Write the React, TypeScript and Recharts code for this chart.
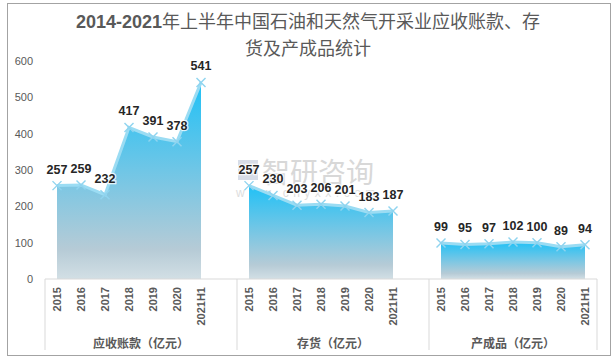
import React from "react";
import { ComposedChart, Area, XAxis, YAxis, LabelList, Customized } from "recharts";

const YEARS = ["2015", "2016", "2017", "2018", "2019", "2020", "2021H1"];
const GROUPS = ["应收账款（亿元）", "存货（亿元）", "产成品（亿元）"];
const RECEIVABLES = [257, 259, 232, 417, 391, 378, 541];
const INVENTORY = [257, 230, 203, 206, 201, 183, 187];
const FINISHED = [99, 95, 97, 102, 100, 89, 94];
const Y_TICKS = [0, 100, 200, 300, 400, 500, 600];
const TITLE_1 = "年上半年中国石油和天然气开采业应收账款、存";
const TITLE_2 = "货及产成品统计";

const SERIES = [RECEIVABLES, INVENTORY, FINISHED];
const KEYS = ["s0", "s1", "s2"];

// one row per slot, with an empty slot after the first two groups
type Row = { year: string; pos: number; [k: string]: any };
const rows: Row[] = [];
const bounds: number[] = [];
const centers: number[] = [];
SERIES.forEach((vals, g) => {
  const start = rows.length;
  vals.forEach((v, i) => {
    rows.push({ year: YEARS[i], pos: rows.length + 0.5, [KEYS[g]]: v });
  });
  if (g < SERIES.length - 1) rows.push({ year: "", pos: rows.length + 0.5 });
  bounds.push(start);
  centers.push((start + rows.length) / 2);
});
bounds.push(rows.length);
const yearTicks = rows.filter((r) => r.year).map((r) => r.pos);
const yearAt = (pos: number) => rows.find((r) => r.pos === pos)?.year ?? "";

const GRAY = "#595959";
const YEAR_AXIS_H = 55;
const NUM_FONT = "'Liberation Sans', Arial, sans-serif";
const CJK_FONT = "'Noto Sans CJK SC', sans-serif";

const YearTick = (props: any) => {
  const { x, y, payload } = props;
  const label = yearAt(payload.value);
  if (!label) return null;
  return (
    <text
      x={x}
      y={y}
      dy="0.35em"
      transform={`rotate(-90 ${x} ${y})`}
      textAnchor="end"
      fontSize={11}
      fontWeight="bold"
      fontFamily={NUM_FONT}
      fill={GRAY}
    >
      {label}
    </text>
  );
};

const GroupTick = (props: any) => {
  const { x, y, payload } = props;
  const gi = centers.indexOf(payload.value);
  if (gi >= 0) {
    return (
      <text
        x={x}
        y={y + 8}
        dominantBaseline="central"
        textAnchor="middle"
        fontSize={12}
        fontWeight="bold"
        fontFamily={CJK_FONT}
        fill={GRAY}
      >
        {GROUPS[gi]}
      </text>
    );
  }
  return <line x1={x} x2={x} y1={y - YEAR_AXIS_H} y2={y + 16} stroke="#d9d9d9" strokeWidth={1} />;
};

const makeMark = (key: string) => (props: any) => {
  const { cx, cy, payload } = props;
  if (cx == null || cy == null || payload?.[key] == null) return <g key={props.key} />;
  const s = 4.5;
  return (
    <g key={props.key}>
      <line x1={cx - s} y1={cy - s} x2={cx + s} y2={cy + s} stroke="#8fd4ef" strokeWidth={1.4} />
      <line x1={cx - s} y1={cy + s} x2={cx + s} y2={cy - s} stroke="#8fd4ef" strokeWidth={1.4} />
    </g>
  );
};

const ValueLabel = (props: any) => {
  const { x, y, value } = props;
  if (value == null || y == null) return null;
  return (
    <text
      x={x}
      y={y - 12}
      textAnchor="middle"
      fontSize={12.5}
      fontWeight="bold"
      fontFamily={NUM_FONT}
      fill="#262626"
      stroke="#ffffff"
      strokeWidth={2.5}
      strokeOpacity={0.8}
      paintOrder="stroke"
    >
      {value}
    </text>
  );
};

const Watermark = () => (
  <g opacity={0.7}>
    <rect x={238} y={160} width={20} height={20} fill="#c7d0df" />
    <text x={262} y={183} fontSize={28} fontFamily={CJK_FONT} fill="#c8c8c8">
      智研咨询
    </text>
    <text x={236} y={197} fontSize={12} fontFamily={NUM_FONT} fill="#cfcfcf" letterSpacing={4.5}>
      www.chyxx.com
    </text>
  </g>
);

export default function App() {
  return (
    <div style={{ position: "absolute", left: 0, top: 0, width: 616, height: 362, background: "#fff" }}>
      <div
        style={{
          position: "absolute",
          left: 7,
          top: 3,
          width: 602,
          height: 351,
          border: "1.5px solid #a3a3a3",
          pointerEvents: "none",
        }}
      />
      <div
        style={{
          position: "absolute",
          left: 0,
          top: 8,
          width: 616,
          textAlign: "center",
          fontFamily: CJK_FONT,
          fontSize: 18,
          lineHeight: "25px",
          color: GRAY,
          zIndex: 2,
        }}
      >
        <div>
          <span style={{ fontFamily: NUM_FONT, fontWeight: "bold" }}>2014-2021</span>
          {TITLE_1}
        </div>
        <div>{TITLE_2}</div>
      </div>
      <ComposedChart
        width={616}
        height={362}
        data={rows}
        margin={{ top: 61, right: 19, left: 0, bottom: 8 }}
      >
        <defs>
          <linearGradient id="areaFill" x1="0" y1="0" x2="0" y2="1">
            <stop offset="0%" stopColor="#20c1f6" />
            <stop offset="45%" stopColor="#70c6e6" />
            <stop offset="85%" stopColor="#b6cbd6" />
            <stop offset="100%" stopColor="#d2dfe5" />
          </linearGradient>
        </defs>
        <Customized component={Watermark} />
        <YAxis
          domain={[0, 600]}
          ticks={Y_TICKS}
          width={45}
          axisLine={false}
          tickLine={false}
          tickSize={0}
          tickMargin={12}
          tick={{ fontSize: 11, fill: GRAY, fontFamily: NUM_FONT }}
        />
        <XAxis
          dataKey="pos"
          type="number"
          domain={[0, rows.length]}
          ticks={yearTicks}
          interval={0}
          height={YEAR_AXIS_H}
          tickLine={false}
          tickSize={0}
          tickMargin={8}
          axisLine={{ stroke: "#d9d9d9" }}
          tick={<YearTick />}
        />
        <XAxis
          xAxisId="grp"
          dataKey="pos"
          type="number"
          domain={[0, rows.length]}
          ticks={[...bounds, ...centers]}
          interval={0}
          height={20}
          axisLine={false}
          tickLine={false}
          tickSize={0}
          tickMargin={0}
          tick={<GroupTick />}
        />
        {KEYS.map((k) => (
          <Area
            key={k}
            dataKey={k}
            type="linear"
            stroke="#9bdcf3"
            strokeWidth={3}
            fill="url(#areaFill)"
            fillOpacity={1}
            dot={makeMark(k)}
            activeDot={false}
            connectNulls={false}
            isAnimationActive={false}
          >
            <LabelList dataKey={k} content={<ValueLabel />} />
          </Area>
        ))}
      </ComposedChart>
    </div>
  );
}
